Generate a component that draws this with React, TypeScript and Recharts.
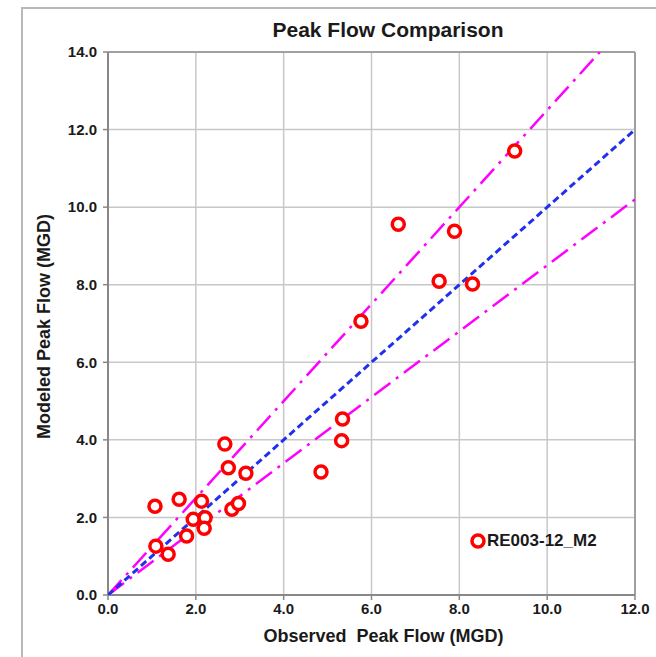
import { ScatterChart, Scatter, XAxis, YAxis, CartesianGrid, ReferenceLine } from "recharts"

// observed vs modeled peak flow, MGD
const observed = [1.07, 1.09, 1.37, 1.62, 1.79, 1.94, 2.13, 2.21, 2.19, 2.66, 2.74, 2.82, 2.97, 3.14, 4.85, 5.32, 5.34, 5.76, 6.61, 7.54, 7.89, 8.3, 9.26]
const modeled = [2.29, 1.26, 1.05, 2.47, 1.52, 1.95, 2.42, 1.99, 1.72, 3.89, 3.28, 2.21, 2.36, 3.14, 3.17, 3.98, 4.54, 7.06, 9.56, 8.09, 9.38, 8.02, 11.45]

const xTicks = [0, 2, 4, 6, 8, 10, 12]
const yTicks = [0, 2, 4, 6, 8, 10, 12, 14]

const xMax = 12
const yMax = 14
const upperFactor = 1.25
const lowerFactor = 0.85

const points = observed.map((x, i) => ({ x, y: modeled[i] }))

// 1:1 line and the upper / lower bands, cut at the plot edges
const oneToOne = [{ x: 0, y: 0 }, { x: xMax, y: xMax }]
const upperBand = [{ x: 0, y: 0 }, { x: yMax / upperFactor, y: yMax }]
const lowerBand = [{ x: 0, y: 0 }, { x: xMax, y: xMax * lowerFactor }]

const FONT = '"Liberation Sans", Arial, sans-serif'
const tickStyle = { fill: "#1a1a1a", fontSize: 15, fontWeight: "bold", fontFamily: FONT }

const Ring = (props: any) => (
  <circle cx={props.cx} cy={props.cy} r={6} fill="#fff" stroke="#ff0000" strokeWidth={3.5} />
)

const NoDot = () => <g />

const yLabel = (props: any) => {
  const vb = props.viewBox
  const cx = vb.x + 44
  const cy = vb.y + vb.height / 2 + 3
  return (
    <text
      x={cx}
      y={cy}
      transform={`rotate(-90 ${cx} ${cy})`}
      textAnchor="middle"
      dominantBaseline="central"
      fontSize={18}
      fontWeight="bold"
      fontFamily={FONT}
      fill="#1a1a1a"
    >
      Modeled Peak Flow (MGD)
    </text>
  )
}

const xLabel = (props: any) => {
  const vb = props.viewBox
  return (
    <text
      x={vb.x + vb.width / 2 + 12}
      y={vb.y + 41}
      textAnchor="middle"
      dominantBaseline="central"
      fontSize={18}
      fontWeight="bold"
      fontFamily={FONT}
      fill="#1a1a1a"
      style={{ whiteSpace: "pre" }}
    >
      Observed  Peak Flow (MGD)
    </text>
  )
}

export default function App() {
  return (
    <div
      style={{
        position: "absolute",
        left: 0,
        top: 0,
        width: 656,
        height: 657,
        overflow: "hidden",
        background: "#fff",
        fontFamily: FONT
      }}
    >
      <div
        style={{
          position: "absolute",
          left: 21,
          top: 7,
          width: 700,
          height: 700,
          border: "2px solid #b8b8b8"
        }}
      />

      <div
        style={{
          position: "absolute",
          left: 188,
          top: 18,
          width: 400,
          textAlign: "center",
          fontSize: 21,
          fontWeight: "bold",
          color: "#1a1a1a"
        }}
      >
        Peak Flow Comparison
      </div>

      <ScatterChart
        width={656}
        height={657}
        margin={{ top: 52, right: 21, bottom: 0, left: 0 }}
        style={{ position: "absolute", left: 0, top: 0 }}
      >
        <CartesianGrid stroke="#c8c8c8" strokeWidth={1.5} />

        <XAxis
          type="number"
          dataKey="x"
          domain={[0, xMax]}
          ticks={xTicks}
          height={62}
          tickFormatter={(v) => v.toFixed(1)}
          tick={tickStyle}
          tickSize={5}
          tickMargin={3}
          axisLine={{ stroke: "#888", strokeWidth: 2 }}
          tickLine={{ stroke: "#888", strokeWidth: 1.5 }}
          allowDataOverflow
          label={{ content: xLabel }}
        />

        <YAxis
          type="number"
          dataKey="y"
          domain={[0, yMax]}
          ticks={yTicks}
          width={108}
          tickFormatter={(v) => v.toFixed(1)}
          tick={tickStyle}
          tickSize={5}
          tickMargin={6}
          axisLine={{ stroke: "#888", strokeWidth: 2 }}
          tickLine={{ stroke: "#888", strokeWidth: 1.5 }}
          allowDataOverflow
          label={{ content: yLabel }}
        />

        <ReferenceLine y={yMax} stroke="#a0a0a0" strokeWidth={2} />
        <ReferenceLine x={xMax} stroke="#a0a0a0" strokeWidth={2} />

        <Scatter
          data={upperBand}
          line={{ stroke: "#ff00ff", strokeWidth: 2.5, strokeDasharray: "20 7 3 7" }}
          shape={NoDot}
          isAnimationActive={false}
        />
        <Scatter
          data={lowerBand}
          line={{ stroke: "#ff00ff", strokeWidth: 2.5, strokeDasharray: "20 7 3 7" }}
          shape={NoDot}
          isAnimationActive={false}
        />
        <Scatter
          data={oneToOne}
          line={{ stroke: "#2030ee", strokeWidth: 3, strokeDasharray: "7 4" }}
          shape={NoDot}
          isAnimationActive={false}
        />

        <Scatter name="RE003-12_M2" data={points} shape={Ring} isAnimationActive={false} />
      </ScatterChart>

      <div
        style={{
          position: "absolute",
          left: 469,
          top: 530,
          display: "flex",
          alignItems: "center",
          fontSize: 17,
          fontWeight: "bold",
          color: "#1a1a1a"
        }}
      >
        <svg width={18} height={22}>
          <circle cx={9} cy={11} r={6} fill="#fff" stroke="#ff0000" strokeWidth={3.5} />
        </svg>
        <span>RE003-12_M2</span>
      </div>
    </div>
  )
}
